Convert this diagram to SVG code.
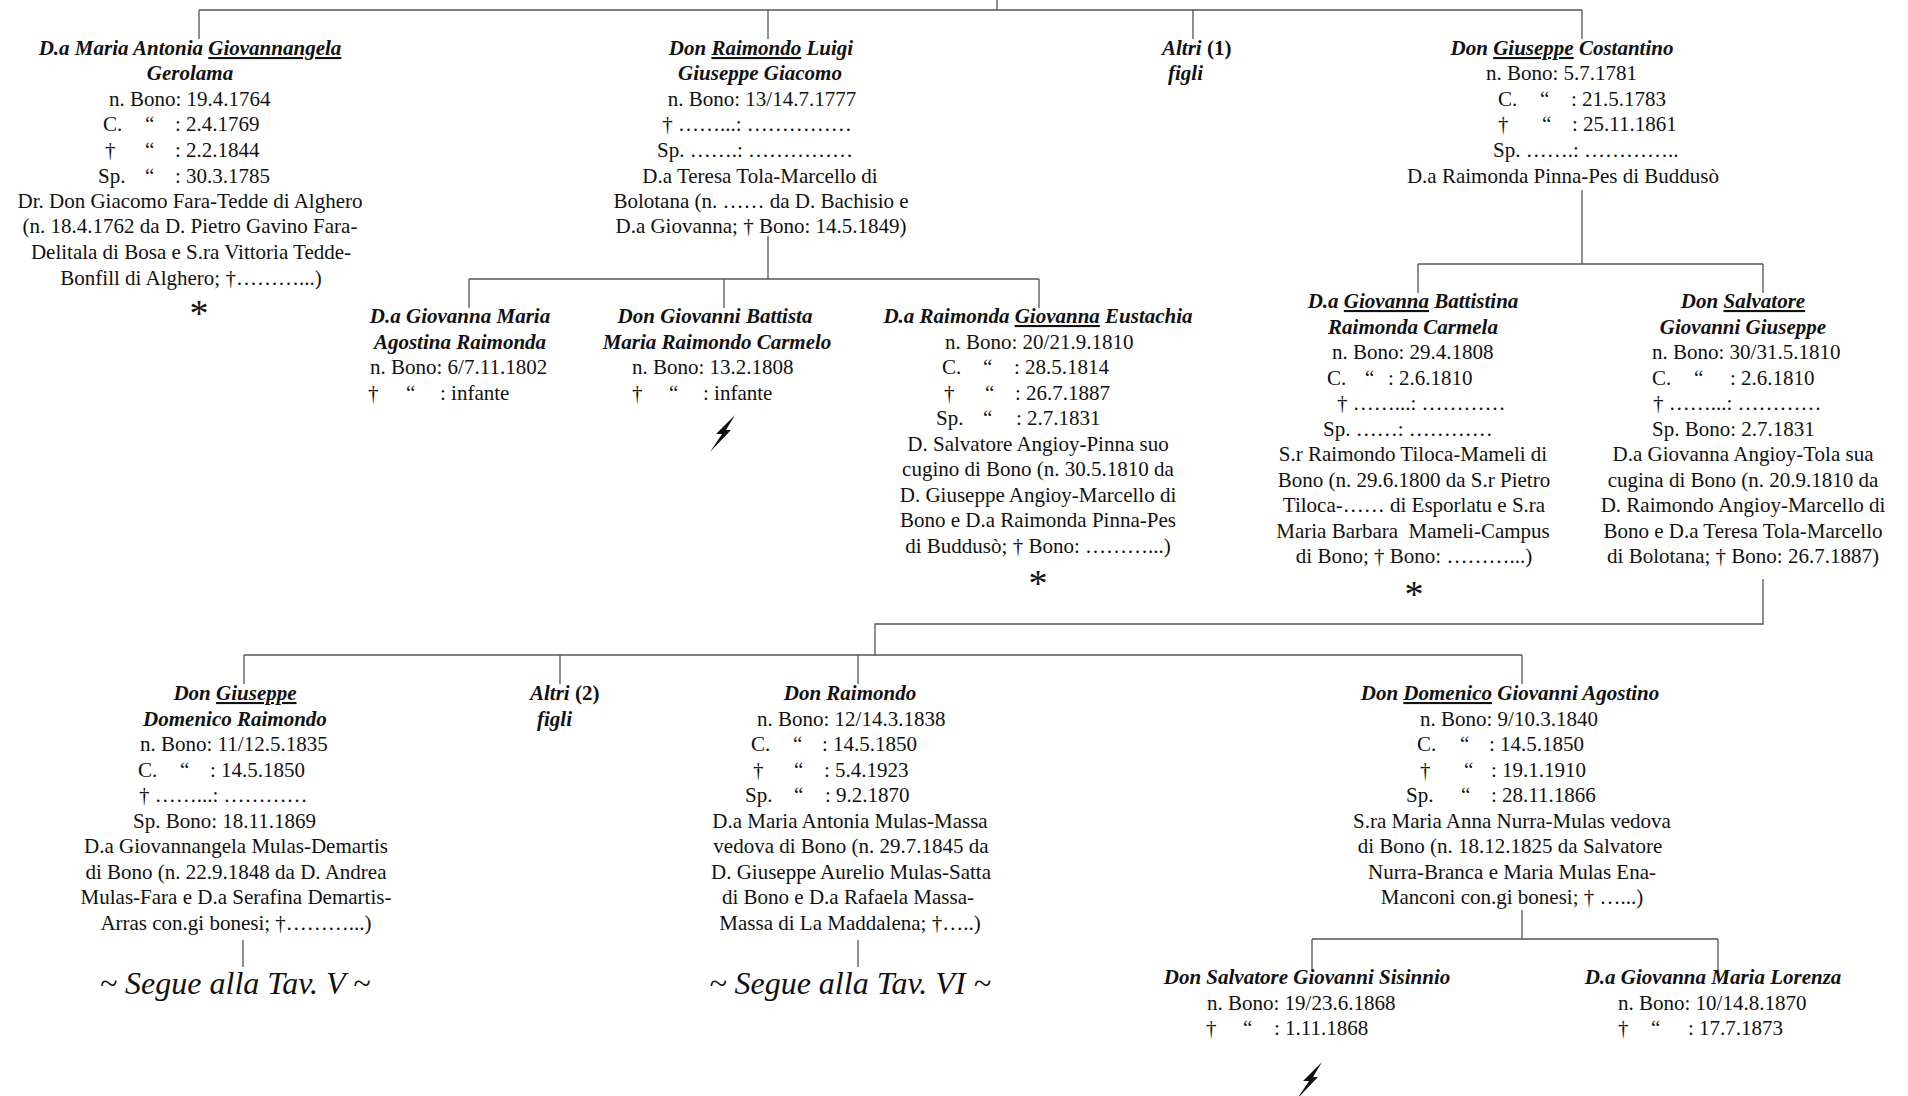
<svg xmlns="http://www.w3.org/2000/svg" width="1908" height="1096" viewBox="0 0 1908 1096">
<style>
text { font-family: "Liberation Serif", "Times New Roman", serif; font-size: 21px; fill: #111; }
.h { font-weight: bold; font-style: italic; }
.bd { font-weight: bold; }
.m { text-anchor: middle; }
.u { text-decoration: underline; }
.s { font-style: italic; font-size: 32px; text-anchor: middle; }
.ast { font-size: 38px; text-anchor: middle; }
.ln { stroke: #555; stroke-width: 1.3; fill: none; }
.bolt { fill: #111; }
</style>
<defs>
<path id="bolt" class="bolt" d="M 12,-18 L -7,1 L -1,1 L -13,19 L 8,-3 L 3,-3 Z"/>
</defs>
<rect width="1908" height="1096" fill="#fff"/>
<g id="connectors">
<path class="ln" d="M997,0 V10 M199,10 H1582 M199,10 V39 M768,10 V39 M1193,10 V39 M1582,10 V39"/>
<path class="ln" d="M768,236 V279 M469,279 H1039 M469,279 V308 M724,279 V308 M1039,279 V308"/>
<path class="ln" d="M1582,190 V264 M1418,264 H1763 M1418,264 V293 M1763,264 V293"/>
<path class="ln" d="M1763,579 V624 H875 V655 M244,655 H1522 M244,655 V684 M560,655 V684 M858,655 V684 M1522,655 V684"/>
<path class="ln" d="M243,940 V967 M858,940 V967"/>
<path class="ln" d="M1522,910 V939 M1312,939 H1718 M1312,939 V970 M1718,939 V970"/>
</g>
<g id="n_maria_antonia">
<text class="h m" x="190" y="55">D.a Maria Antonia <tspan class="u">Giovannangela</tspan></text>
<text class="h m" x="190" y="80">Gerolama</text>
<text x="109" y="106">n. Bono: 19.4.1764</text>
<text y="131"><tspan x="103">C.</tspan><tspan x="145">“</tspan><tspan x="175">: 2.4.1769</tspan></text>
<text y="157"><tspan x="105">†</tspan><tspan x="145">“</tspan><tspan x="175">: 2.2.1844</tspan></text>
<text y="183"><tspan x="98">Sp.</tspan><tspan x="145">“</tspan><tspan x="175">: 30.3.1785</tspan></text>
<text class="m" x="190" y="208">Dr. Don Giacomo Fara-Tedde di Alghero</text>
<text class="m" x="190" y="233">(n. 18.4.1762 da D. Pietro Gavino Fara-</text>
<text class="m" x="191" y="259">Delitala di Bosa e S.ra Vittoria Tedde-</text>
<text class="m" x="191" y="285">Bonfill di Alghero; †………...)</text>
<text class="ast" x="199" y="326">*</text>
</g>
<g id="n_raimondo_luigi">
<text class="h m" x="761" y="55">Don <tspan class="u">Raimondo</tspan> Luigi</text>
<text class="h m" x="760" y="80">Giuseppe Giacomo</text>
<text class="m" x="762" y="106">n. Bono: 13/14.7.1777</text>
<text class="m" x="757" y="131">† ……...: ……………</text>
<text class="m" x="755" y="157">Sp. …….: ……………</text>
<text class="m" x="760" y="183">D.a Teresa Tola-Marcello di</text>
<text class="m" x="761" y="208">Bolotana (n. …… da D. Bachisio e</text>
<text class="m" x="761" y="233">D.a Giovanna; † Bono: 14.5.1849)</text>
</g>
<g id="n_altri1">
<text class="bd" x="1162" y="55"><tspan font-style="italic">Altri</tspan> (1)</text>
<text class="h" x="1168" y="80">figli</text>
</g>
<g id="n_giuseppe_costantino">
<text class="h m" x="1562" y="55">Don <tspan class="u">Giuseppe</tspan> Costantino</text>
<text x="1486" y="80">n. Bono: 5.7.1781</text>
<text y="106"><tspan x="1498">C.</tspan><tspan x="1540">“</tspan><tspan x="1571">: 21.5.1783</tspan></text>
<text y="131"><tspan x="1498">†</tspan><tspan x="1542">“</tspan><tspan x="1572">: 25.11.1861</tspan></text>
<text x="1493" y="157">Sp. …….: …………..</text>
<text class="m" x="1563" y="183">D.a Raimonda Pinna-Pes di Buddusò</text>
</g>
<g id="n_giovanna_maria_agostina">
<text class="h m" x="460" y="323">D.a Giovanna Maria</text>
<text class="h m" x="460" y="348.5">Agostina Raimonda</text>
<text x="370" y="374">n. Bono: 6/7.11.1802</text>
<text y="399.5"><tspan x="368">†</tspan><tspan x="406">“</tspan><tspan x="440">: infante</tspan></text>
</g>
<g id="n_giovanni_battista">
<text class="h m" x="715" y="323">Don Giovanni Battista</text>
<text class="h m" x="717" y="348.5">Maria Raimondo Carmelo</text>
<text x="632" y="374">n. Bono: 13.2.1808</text>
<text y="399.5"><tspan x="632">†</tspan><tspan x="669">“</tspan><tspan x="703">: infante</tspan></text>
<use href="#bolt" x="723" y="433"/>
</g>
<g id="n_raimonda_giovanna">
<text class="h m" x="1038" y="323">D.a Raimonda <tspan class="u">Giovanna</tspan> Eustachia</text>
<text x="945" y="348.5">n. Bono: 20/21.9.1810</text>
<text y="374"><tspan x="942">C.</tspan><tspan x="983">“</tspan><tspan x="1014">: 28.5.1814</tspan></text>
<text y="399.5"><tspan x="944">†</tspan><tspan x="985">“</tspan><tspan x="1015">: 26.7.1887</tspan></text>
<text y="425"><tspan x="936">Sp.</tspan><tspan x="983">“</tspan><tspan x="1016">: 2.7.1831</tspan></text>
<text class="m" x="1038" y="450.5">D. Salvatore Angioy-Pinna suo</text>
<text class="m" x="1038" y="476">cugino di Bono (n. 30.5.1810 da</text>
<text class="m" x="1038" y="501.5">D. Giuseppe Angioy-Marcello di</text>
<text class="m" x="1038" y="527">Bono e D.a Raimonda Pinna-Pes</text>
<text class="m" x="1038" y="552.5">di Buddusò; † Bono: ………...)</text>
<text class="ast" x="1038" y="596">*</text>
</g>
<g id="n_giovanna_battistina">
<text class="h m" x="1413" y="308">D.a <tspan class="u">Giovanna</tspan> Battistina</text>
<text class="h m" x="1413" y="333.5">Raimonda Carmela</text>
<text x="1332" y="359">n. Bono: 29.4.1808</text>
<text y="384.5"><tspan x="1327">C.</tspan><tspan x="1365">“</tspan><tspan x="1388">: 2.6.1810</tspan></text>
<text x="1337" y="410">† ……...: …………</text>
<text x="1323" y="435.5">Sp. ……: …………</text>
<text class="m" x="1413" y="461">S.r Raimondo Tiloca-Mameli di</text>
<text class="m" x="1414" y="486.5">Bono (n. 29.6.1800 da S.r Pietro</text>
<text class="m" x="1414" y="512">Tiloca-…… di Esporlatu e S.ra</text>
<text class="m" x="1413" y="537.5">Maria Barbara&#160; Mameli-Campus</text>
<text class="m" x="1414" y="563">di Bono; † Bono: ………...)</text>
<text class="ast" x="1414" y="607">*</text>
</g>
<g id="n_salvatore">
<text class="h m" x="1743" y="308">Don <tspan class="u">Salvatore</tspan></text>
<text class="h m" x="1743" y="333.5">Giovanni Giuseppe</text>
<text x="1652" y="359">n. Bono: 30/31.5.1810</text>
<text y="384.5"><tspan x="1652">C.</tspan><tspan x="1694">“</tspan><tspan x="1730">: 2.6.1810</tspan></text>
<text x="1653" y="410">† ……...: …………</text>
<text x="1652" y="435.5">Sp. Bono: 2.7.1831</text>
<text class="m" x="1743" y="461">D.a Giovanna Angioy-Tola sua</text>
<text class="m" x="1743" y="486.5">cugina di Bono (n. 20.9.1810 da</text>
<text class="m" x="1743" y="512">D. Raimondo Angioy-Marcello di</text>
<text class="m" x="1743" y="537.5">Bono e D.a Teresa Tola-Marcello</text>
<text class="m" x="1743" y="563">di Bolotana; † Bono: 26.7.1887)</text>
</g>
<g id="n_giuseppe_domenico">
<text class="h m" x="235" y="700">Don <tspan class="u">Giuseppe</tspan></text>
<text class="h m" x="235" y="725.5">Domenico Raimondo</text>
<text x="140" y="751">n. Bono: 11/12.5.1835</text>
<text y="776.5"><tspan x="138">C.</tspan><tspan x="180">“</tspan><tspan x="210">: 14.5.1850</tspan></text>
<text x="139" y="802">† ……...: …………</text>
<text x="133" y="827.5">Sp. Bono: 18.11.1869</text>
<text class="m" x="236" y="853">D.a Giovannangela Mulas-Demartis</text>
<text class="m" x="236" y="878.5">di Bono (n. 22.9.1848 da D. Andrea</text>
<text class="m" x="236" y="904">Mulas-Fara e D.a Serafina Demartis-</text>
<text class="m" x="236" y="929.5">Arras con.gi bonesi; †………...)</text>
<text class="s" x="235" y="994">~ Segue alla Tav. V ~</text>
</g>
<g id="n_altri2">
<text class="bd" x="530" y="700"><tspan font-style="italic">Altri</tspan> (2)</text>
<text class="h" x="537" y="725.5">figli</text>
</g>
<g id="n_raimondo">
<text class="h m" x="850" y="700">Don Raimondo</text>
<text x="757" y="725.5">n. Bono: 12/14.3.1838</text>
<text y="751"><tspan x="751">C.</tspan><tspan x="793">“</tspan><tspan x="822">: 14.5.1850</tspan></text>
<text y="776.5"><tspan x="753">†</tspan><tspan x="794">“</tspan><tspan x="824">: 5.4.1923</tspan></text>
<text y="802"><tspan x="745">Sp.</tspan><tspan x="794">“</tspan><tspan x="825">: 9.2.1870</tspan></text>
<text class="m" x="850" y="827.5">D.a Maria Antonia Mulas-Massa</text>
<text class="m" x="851" y="853">vedova di Bono (n. 29.7.1845 da</text>
<text class="m" x="851" y="878.5">D. Giuseppe Aurelio Mulas-Satta</text>
<text class="m" x="848" y="904">di Bono e D.a Rafaela Massa-</text>
<text class="m" x="850" y="929.5">Massa di La Maddalena; †…..)</text>
<text class="s" x="850" y="994">~ Segue alla Tav. VI ~</text>
</g>
<g id="n_domenico">
<text class="h m" x="1510" y="700">Don <tspan class="u">Domenico</tspan> Giovanni Agostino</text>
<text x="1420" y="725.5">n. Bono: 9/10.3.1840</text>
<text y="751"><tspan x="1417">C.</tspan><tspan x="1460">“</tspan><tspan x="1489">: 14.5.1850</tspan></text>
<text y="776.5"><tspan x="1420">†</tspan><tspan x="1464">“</tspan><tspan x="1491">: 19.1.1910</tspan></text>
<text y="802"><tspan x="1406">Sp.</tspan><tspan x="1461">“</tspan><tspan x="1491">: 28.11.1866</tspan></text>
<text class="m" x="1512" y="827.5">S.ra Maria Anna Nurra-Mulas vedova</text>
<text class="m" x="1510" y="853">di Bono (n. 18.12.1825 da Salvatore</text>
<text class="m" x="1512" y="878.5">Nurra-Branca e Maria Mulas Ena-</text>
<text class="m" x="1512" y="904">Manconi con.gi bonesi; † …...)</text>
</g>
<g id="n_salvatore_sisinnio">
<text class="h m" x="1307" y="984">Don Salvatore Giovanni Sisinnio</text>
<text x="1207" y="1009.5">n. Bono: 19/23.6.1868</text>
<text y="1035"><tspan x="1206">†</tspan><tspan x="1243">“</tspan><tspan x="1274">: 1.11.1868</tspan></text>
<use href="#bolt" x="1310" y="1080"/>
</g>
<g id="n_giovanna_lorenza">
<text class="h m" x="1713" y="984">D.a Giovanna Maria Lorenza</text>
<text x="1618" y="1009.5">n. Bono: 10/14.8.1870</text>
<text y="1035"><tspan x="1618">†</tspan><tspan x="1651">“</tspan><tspan x="1688">: 17.7.1873</tspan></text>
</g>
</svg>
